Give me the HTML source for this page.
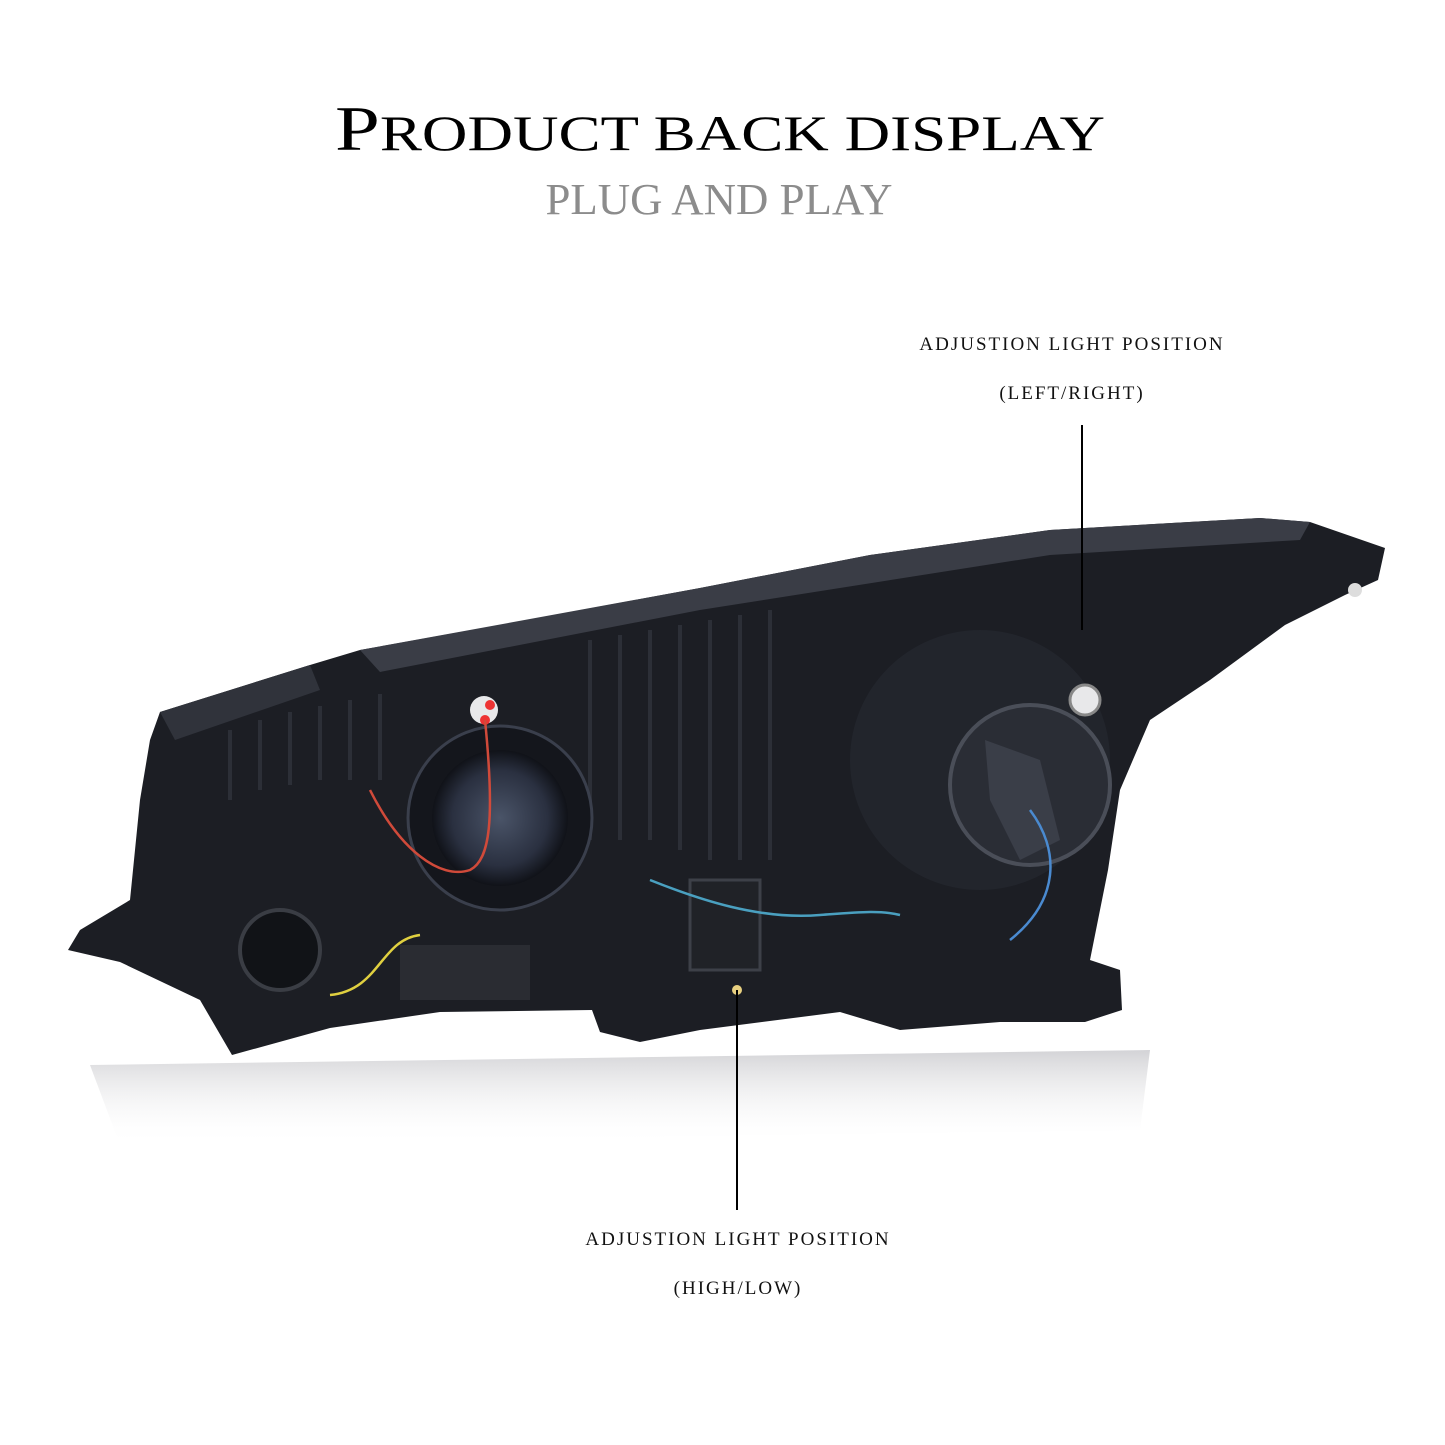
<!DOCTYPE html>
<html><head><meta charset="utf-8"><style>
html,body{margin:0;padding:0;background:#fff;}
svg{display:block}
</style></head><body>
<svg width="1445" height="1445" viewBox="0 0 1445 1445" xmlns="http://www.w3.org/2000/svg">
<defs>
<linearGradient id="refl" x1="0" y1="0" x2="0" y2="1">
<stop offset="0" stop-color="#c8c8cc" stop-opacity="0.8"/>
<stop offset="1" stop-color="#ffffff" stop-opacity="0"/>
</linearGradient>
<radialGradient id="lens" cx="0.5" cy="0.5" r="0.5">
<stop offset="0" stop-color="#4a5468"/>
<stop offset="0.7" stop-color="#2a3040"/>
<stop offset="1" stop-color="#101218"/>
</radialGradient>
</defs>
<rect width="1445" height="1445" fill="#fff"/>
<text x="720" y="150" text-anchor="middle" font-family="'Liberation Serif',serif" font-size="64" fill="#000" textLength="770" lengthAdjust="spacingAndGlyphs">P<tspan font-size="50">RODUCT BACK DISPLAY</tspan></text>
<text x="719" y="214" text-anchor="middle" font-family="'Liberation Serif',serif" font-size="44" fill="#8c8c8c" textLength="347" lengthAdjust="spacingAndGlyphs">PLUG AND PLAY</text>

<!-- reflection -->
<path d="M90 1065 L1150 1050 L1140 1130 L120 1145 Z" fill="url(#refl)"/>

<!-- headlamp body -->
<path d="M150 740 L160 712 L310 665 L360 650 L500 625 L700 588 L870 555 L1050 530 L1260 518 L1310 522 L1385 548 L1378 580 L1345 595 L1285 625 L1210 680 L1150 720 L1120 790 L1108 870 L1090 960 L1120 970 L1122 1010 L1085 1022 L1000 1022 L900 1030 L840 1012 L700 1030 L640 1042 L600 1032 L592 1010 L440 1012 L330 1028 L232 1055 L200 1000 L120 962 L68 950 L80 930 L130 900 L140 800 Z" fill="#1c1e24"/>
<path d="M360 650 L700 588 L870 555 L1050 530 L1260 518 L1310 522 L1300 540 L1050 555 L700 610 L380 672 Z" fill="#3a3d46"/>
<path d="M160 712 L310 665 L320 690 L175 740 Z" fill="#30333b"/>
<!-- ribbed center -->
<g stroke="#2c2f37" stroke-width="4">
<line x1="590" y1="640" x2="590" y2="840"/><line x1="620" y1="635" x2="620" y2="840"/><line x1="650" y1="630" x2="650" y2="840"/><line x1="680" y1="625" x2="680" y2="850"/><line x1="710" y1="620" x2="710" y2="860"/><line x1="740" y1="615" x2="740" y2="860"/><line x1="770" y1="610" x2="770" y2="860"/>
<line x1="230" y1="730" x2="230" y2="800"/><line x1="260" y1="720" x2="260" y2="790"/><line x1="290" y1="712" x2="290" y2="785"/><line x1="320" y1="706" x2="320" y2="780"/><line x1="350" y1="700" x2="350" y2="780"/><line x1="380" y1="694" x2="380" y2="780"/>
</g>
<!-- lenses -->
<circle cx="500" cy="818" r="92" fill="#14161c" stroke="#3a3f4c" stroke-width="3"/>
<circle cx="500" cy="818" r="68" fill="url(#lens)"/>
<circle cx="980" cy="760" r="130" fill="#22252c"/>
<circle cx="1030" cy="785" r="80" fill="#2a2d35" stroke="#4a4e58" stroke-width="4"/>
<path d="M985 740 L1040 760 L1060 840 L1020 860 L990 800 Z" fill="#3a3e48"/>
<circle cx="280" cy="950" r="40" fill="#111317" stroke="#3a3d44" stroke-width="4"/>
<rect x="400" y="945" width="130" height="55" fill="#2a2c32"/>
<rect x="690" y="880" width="70" height="90" fill="#202227" stroke="#3d4048" stroke-width="3"/>
<circle cx="1085" cy="700" r="15" fill="#e8e8ea" stroke="#888" stroke-width="3"/>
<circle cx="1355" cy="590" r="7" fill="#ddd"/>
<circle cx="484" cy="710" r="14" fill="#e8e8ea"/>
<circle cx="490" cy="705" r="5" fill="#e33"/><circle cx="485" cy="720" r="5" fill="#e33"/>
<circle cx="737" cy="990" r="5" fill="#e8d080"/>
<!-- wires -->
<path d="M485 720 C495 820 490 860 470 870 C440 880 400 850 370 790" stroke="#d04a3a" stroke-width="2.5" fill="none"/>
<path d="M420 935 C380 940 380 990 330 995" stroke="#e0d040" stroke-width="2.5" fill="none"/>
<path d="M650 880 C700 900 760 920 820 915 C860 912 880 910 900 915" stroke="#4aa0c0" stroke-width="2.5" fill="none"/>
<path d="M1030 810 C1060 850 1060 900 1010 940" stroke="#4a8ad0" stroke-width="2.5" fill="none"/>
<!-- label lines -->
<line x1="1082" y1="425" x2="1082" y2="630" stroke="#000" stroke-width="2"/>
<line x1="737" y1="990" x2="737" y2="1210" stroke="#000" stroke-width="2"/>
<g font-family="'Liberation Serif',serif" font-size="19" fill="#111" text-anchor="middle" letter-spacing="2">
<text x="1072" y="350">ADJUSTION LIGHT POSITION</text>
<text x="1072" y="399">(LEFT/RIGHT)</text>
<text x="738" y="1245">ADJUSTION LIGHT POSITION</text>
<text x="738" y="1294">(HIGH/LOW)</text>
</g>
</svg>
</body></html>
